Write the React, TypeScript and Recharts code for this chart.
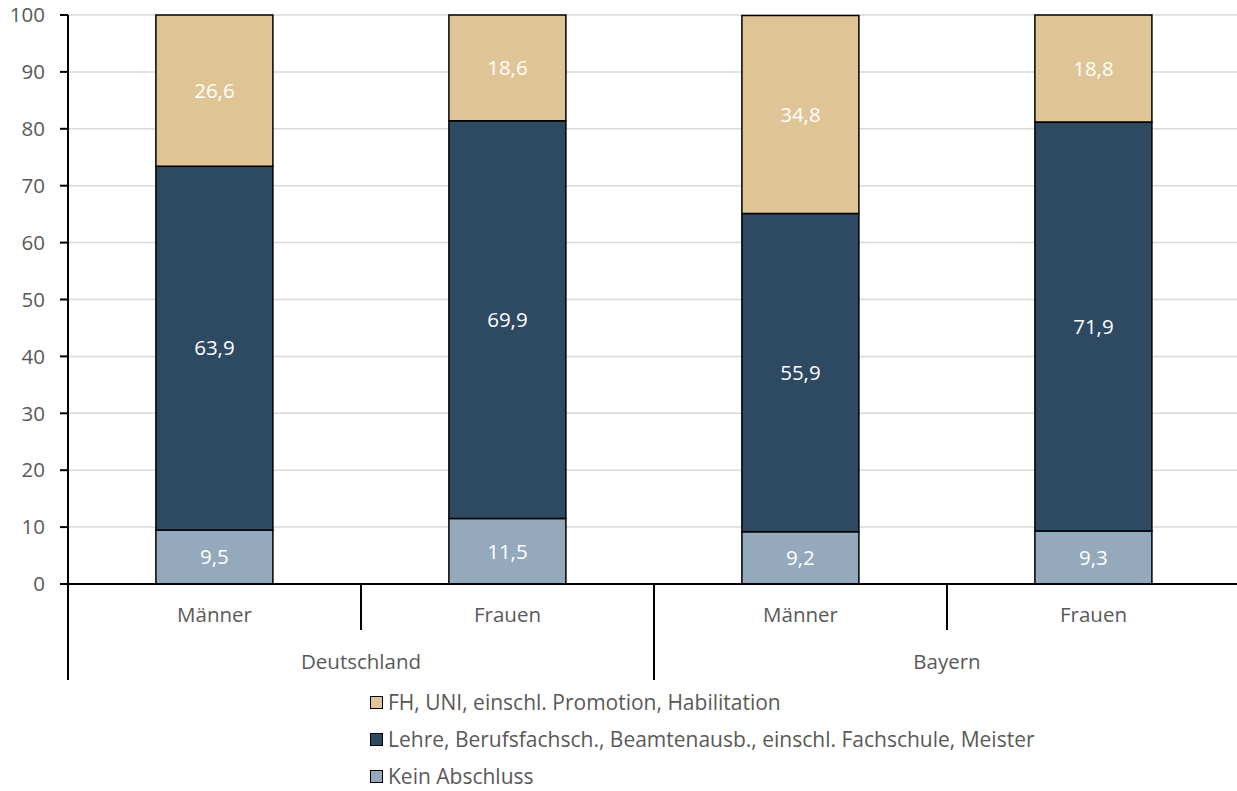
import React from "react";
import { BarChart, Bar, XAxis, YAxis, CartesianGrid, Legend, LabelList } from "recharts";

// Anteile nach höchstem beruflichen Abschluss (in %)
const sexes = ["Männer", "Frauen", "Männer", "Frauen"];
const regions = ["Deutschland", "Bayern"];
const keinAbschluss = [9.5, 11.5, 9.2, 9.3];
const lehre = [63.9, 69.9, 55.9, 71.9];
const hochschule = [26.6, 18.6, 34.8, 18.8];
const yTicks = [0, 10, 20, 30, 40, 50, 60, 70, 80, 90, 100];

const series = [
  { key: "kein", name: "Kein Abschluss", color: "#94a9bc" },
  { key: "lehre", name: "Lehre, Berufsfachsch., Beamtenausb., einschl. Fachschule, Meister", color: "#2e4962" },
  { key: "hochschule", name: "FH, UNI, einschl. Promotion, Habilitation", color: "#dfc596" },
];

const data = sexes.map((sex, i) => ({
  sex,
  kein: keinAbschluss[i],
  lehre: lehre[i],
  hochschule: hochschule[i],
}));

const FONT = "Open Sans, sans-serif";
const TEXT = "#595959";
const FS = 20.5;

const fmt = (v: any) => Number(v).toFixed(1).replace(".", ",");

// two-level category axis: sex per bar, region per pair of bars
const GroupTick = (props: any) => {
  const { x, y, payload, index } = props;
  const half = payload.offset ?? 0;
  const groupStart = index % 2 === 0;
  return (
    <g>
      <line x1={x - half} x2={x - half} y1={y} y2={y + (groupStart ? 96 : 46)} stroke="#000" strokeWidth={2} />
      <text x={x} y={y + 38} textAnchor="middle" fill={TEXT} fontSize={FS} fontFamily={FONT}>
        {payload.value}
      </text>
      {groupStart && (
        <text x={x + half} y={y + 85} textAnchor="middle" fill={TEXT} fontSize={FS} fontFamily={FONT}>
          {regions[Math.floor(index / 2)]}
        </text>
      )}
    </g>
  );
};

const LegendBox = () => (
  <div style={{ fontFamily: FONT, fontSize: 21, lineHeight: 1.2, color: TEXT, height: 102 }}>
    {[...series].reverse().map((s) => (
      <div key={s.key} style={{ display: "flex", alignItems: "center", height: 37, whiteSpace: "nowrap" }}>
        <span
          style={{
            display: "inline-block",
            width: 11,
            height: 11,
            background: s.color,
            border: "1.5px solid #000",
            marginRight: 5,
          }}
        />
        {s.name}
      </div>
    ))}
  </div>
);

export default function App() {
  return (
    <div style={{ position: "fixed", left: 0, top: 0, width: 1237, height: 791, overflow: "hidden", background: "#fff" }}>
      <BarChart
        width={1240}
        height={791}
        data={data}
        margin={{ top: 15, right: 0, left: 8, bottom: 9 }}
        barCategoryGap="30%"
      >
        <CartesianGrid vertical={false} stroke="#d9d9d9" strokeWidth={1.5} />
        <XAxis
          dataKey="sex"
          height={96}
          tickLine={false}
          tickSize={0}
          tickMargin={0}
          axisLine={{ stroke: "#000", strokeWidth: 2 }}
          tick={<GroupTick />}
          interval={0}
        />
        <YAxis
          width={60}
          domain={[0, 100]}
          ticks={yTicks}
          tickSize={8}
          tickMargin={15}
          axisLine={{ stroke: "#000", strokeWidth: 2 }}
          tickLine={{ stroke: "#000", strokeWidth: 2 }}
          tick={{ fill: TEXT, fontSize: FS, fontFamily: FONT }}
        />
        <Legend
          verticalAlign="bottom"
          align="center"
          wrapperStyle={{ left: 370, top: 684, width: 760 }}
          content={<LegendBox />}
        />
        {series.map((s) => (
          <Bar
            key={s.key}
            dataKey={s.key}
            name={s.name}
            stackId="a"
            fill={s.color}
            stroke="#000"
            strokeWidth={1.5}
            isAnimationActive={false}
          >
            <LabelList dataKey={s.key} position="center" fill="#fff" fontSize={FS} fontFamily={FONT} formatter={fmt} />
          </Bar>
        ))}
      </BarChart>
    </div>
  );
}
